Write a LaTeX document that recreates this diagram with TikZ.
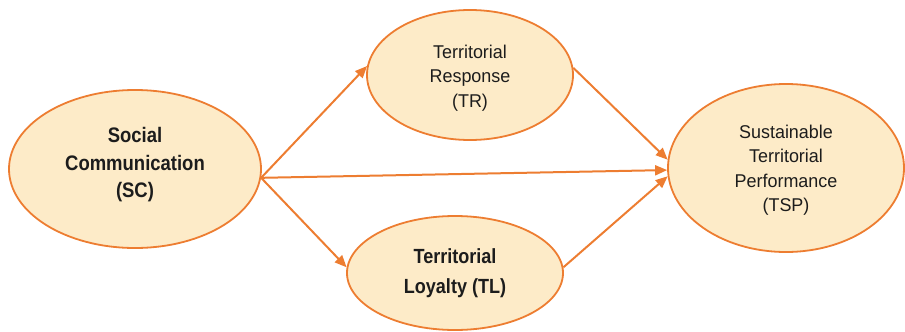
\documentclass[tikz,border=0pt]{standalone}
\usepackage{fontspec}
\setmainfont{Liberation Sans}
\newfontfamily\boldnar[FakeStretch=0.88]{Liberation Sans}
\newfontfamily\regnar[FakeStretch=0.97]{Liberation Sans}
\usetikzlibrary{shapes.geometric,arrows.meta}
\definecolor{orng}{HTML}{ED7D31}
\definecolor{cream}{HTML}{FDEBC8}
\definecolor{txt}{HTML}{1C1C1C}
\begin{document}
\begin{tikzpicture}[x=1pt,y=-1pt,
  ell/.style={ellipse,draw=orng,fill=cream,line width=1.8pt,inner sep=0pt},
  lbold/.style={align=center,text=txt,font=\boldnar\bfseries\fontsize{21}{27.5}\selectfont},
  lbold2/.style={align=center,text=txt,font=\boldnar\bfseries\fontsize{20.5}{30}\selectfont},
  lreg/.style={align=center,text=txt,font=\regnar\fontsize{18.5}{24.5}\selectfont},
  conn/.style={draw=orng,line width=2pt,-{Triangle[length=12pt,width=10pt]}}]
\useasboundingbox (0,0) rectangle (905,332);
\node[ell,minimum width=252pt,minimum height=158pt] (SC) at (135,169) {};
\node[ell,minimum width=206pt,minimum height=130pt] (TR) at (470,75) {};
\node[ell,minimum width=216pt,minimum height=114pt] (TL) at (455,273) {};
\node[ell,minimum width=236pt,minimum height=168pt] (TSP) at (786,168) {};
\node[lbold] (SCt) at (135,165) {Social\\Communication\\(SC)};
\node[lreg] (TRt) at (470,78) {Territorial\\Response\\(TR)};
\node[lbold2] (TLt) at (455,273) {Territorial\\Loyalty (TL)};
\node[lreg] (TSPt) at (786,170) {Sustainable\\Territorial\\Performance\\(TSP)};
\draw[conn] (SC.-4) -- (TR.175);
\draw[conn] (SC.-4) -- (TL.177);
\draw[conn] (SC.-4) -- (TSP.181);
\draw[conn] (TR.4) -- (TSP.176);
\draw[conn] (TL.3) -- (TSP.184.5);
\end{tikzpicture}
\end{document}
